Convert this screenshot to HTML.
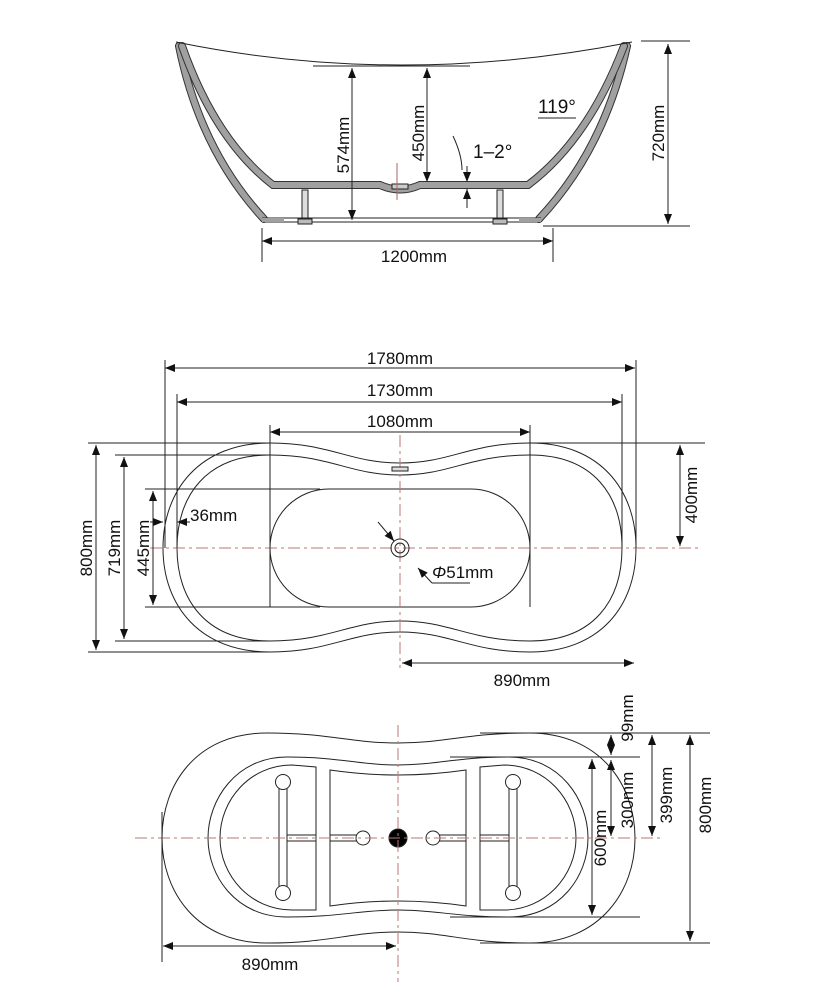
<!DOCTYPE html>
<html><head><meta charset="utf-8"><style>
body{margin:0;background:#fff}
svg{display:block}
text{font-family:"Liberation Sans",Arial,sans-serif;font-size:17px;fill:#111}
</style></head><body>
<svg width="815" height="1000" viewBox="0 0 815 1000" xmlns="http://www.w3.org/2000/svg">
<defs>
<marker id="a" markerWidth="10" markerHeight="8" refX="10" refY="4" orient="auto" markerUnits="userSpaceOnUse"><path d="M0,0 L10,4 L0,8 Z" fill="#111"/></marker>
<marker id="b" markerWidth="10" markerHeight="8" refX="0" refY="4" orient="auto" markerUnits="userSpaceOnUse"><path d="M10,0 L0,4 L10,8 Z" fill="#111"/></marker>
</defs>
<g stroke="#222" stroke-width="1" fill="none">
<!-- SIDE VIEW -->
<g stroke-linecap="round">
<path d="M179,46 Q200,150 264,219" stroke="#333" stroke-width="8"/>
<path d="M179,46 Q200,150 264,219" stroke="#a0a0a0" stroke-width="6"/>
<path d="M627,46 Q604,150 539,219" stroke="#333" stroke-width="8"/>
<path d="M627,46 Q604,150 539,219" stroke="#a0a0a0" stroke-width="6"/>
<path d="M182,46 Q215,140 273,185 L380,185 Q400,194 420,185 L528,185 Q588,140 624,46" stroke="#333" stroke-width="8"/>
<path d="M182,46 Q215,140 273,185 L380,185 Q400,194 420,185 L528,185 Q588,140 624,46" stroke="#a0a0a0" stroke-width="6"/>
</g>
<path d="M176,42 Q400,88 632,42"/>
<line x1="262" y1="218" x2="541" y2="218"/><line x1="262" y1="222" x2="541" y2="222"/>
<rect x="262" y="218" width="22" height="4" fill="#a0a0a0" stroke="none"/>
<rect x="519" y="218" width="22" height="4" fill="#a0a0a0" stroke="none"/>
<line x1="313" y1="66" x2="470" y2="66"/>
<rect x="302" y="190" width="6" height="28" fill="#ddd"/><rect x="298" y="219" width="14" height="5" fill="#bbb"/>
<rect x="497" y="190" width="6" height="28" fill="#ddd"/><rect x="493" y="219" width="14" height="5" fill="#bbb"/>
<rect x="392" y="184" width="16" height="5" fill="#ccc"/>
<line x1="397" y1="163" x2="397" y2="200" stroke="#a66"/>
<line x1="352" y1="68" x2="352" y2="220" marker-start="url(#b)" marker-end="url(#a)"/>
<line x1="427" y1="68" x2="427" y2="182" marker-start="url(#b)" marker-end="url(#a)"/>
<line x1="467" y1="166" x2="467" y2="182" marker-end="url(#a)"/>
<line x1="467" y1="208" x2="467" y2="189" marker-end="url(#a)"/>
<path d="M453,136 Q462,155 462,170"/>
<line x1="538" y1="118" x2="576" y2="118"/>
<line x1="668" y1="44" x2="668" y2="224" marker-start="url(#b)" marker-end="url(#a)"/>
<line x1="641" y1="41" x2="690" y2="41"/><line x1="543" y1="226" x2="690" y2="226"/>
<line x1="262" y1="241" x2="553" y2="241" marker-start="url(#b)" marker-end="url(#a)"/>
<line x1="262" y1="228" x2="262" y2="262"/><line x1="553" y1="228" x2="553" y2="262"/>

<!-- TOP VIEW -->
<path d="M270,443 C330,443 350,463 400,463 C450,463 470,443 530,443 C600,443 636,490 636,548 C636,606 600,652 530,652 C470,652 450,632 400,632 C350,632 330,652 270,652 C200,652 163,606 163,548 C163,490 200,443 270,443 Z"/>
<path d="M270,455 C330,455 350,475 400,475 C450,475 470,455 530,455 C594,455 622,496 622,548 C622,600 594,641 530,641 C470,641 450,621 400,621 C350,621 330,641 270,641 C206,641 177,600 177,548 C177,496 206,455 270,455 Z"/>
<rect x="270" y="489" width="260" height="118" rx="59"/>
<g stroke="#b77" stroke-dasharray="12,4,3,4"><line x1="150" y1="548" x2="700" y2="548"/><line x1="400" y1="435" x2="400" y2="668"/></g>
<circle cx="400" cy="548" r="9"/><circle cx="400" cy="548" r="5"/>
<rect x="392" y="467" width="16" height="4" fill="#ddd"/>
<line x1="165" y1="368" x2="635" y2="368" marker-start="url(#b)" marker-end="url(#a)"/>
<line x1="165" y1="360" x2="165" y2="548"/><line x1="636" y1="360" x2="636" y2="548"/>
<line x1="177" y1="402" x2="622" y2="402" marker-start="url(#b)" marker-end="url(#a)"/>
<line x1="177" y1="394" x2="177" y2="548"/><line x1="622" y1="394" x2="622" y2="548"/>
<line x1="270" y1="432" x2="530" y2="432" marker-start="url(#b)" marker-end="url(#a)"/>
<line x1="270" y1="425" x2="270" y2="607"/><line x1="530" y1="425" x2="530" y2="607"/>
<line x1="96" y1="445" x2="96" y2="650" marker-start="url(#b)" marker-end="url(#a)"/>
<line x1="88" y1="443" x2="270" y2="443"/><line x1="88" y1="652" x2="270" y2="652"/>
<line x1="124" y1="457" x2="124" y2="639" marker-start="url(#b)" marker-end="url(#a)"/>
<line x1="115" y1="455" x2="270" y2="455"/><line x1="115" y1="641" x2="270" y2="641"/>
<line x1="153" y1="491" x2="153" y2="605" marker-start="url(#b)" marker-end="url(#a)"/>
<line x1="145" y1="489" x2="320" y2="489"/><line x1="145" y1="607" x2="320" y2="607"/>
<line x1="150" y1="522" x2="163" y2="522" marker-end="url(#a)"/>
<line x1="190" y1="522" x2="177" y2="522" marker-end="url(#a)"/>
<line x1="680" y1="445" x2="680" y2="546" marker-start="url(#b)" marker-end="url(#a)"/>
<line x1="530" y1="443" x2="705" y2="443"/>
<line x1="378" y1="522" x2="394" y2="541" marker-end="url(#a)"/>
<path d="M432,583 L418,568" marker-end="url(#a)"/><line x1="432" y1="583" x2="470" y2="583"/>
<line x1="402" y1="663" x2="634" y2="663" marker-start="url(#b)" marker-end="url(#a)"/>

<!-- BOTTOM VIEW -->
<path d="M267,733 C330,733 350,743 398,743 C446,743 466,733 529,733 C600,733 635,785 635,838 C635,891 600,943 529,943 C466,943 446,932 398,932 C350,932 330,943 267,943 C196,943 162,891 162,838 C162,785 196,733 267,733 Z"/>
<path d="M287,757 C340,757 360,765 398,765 C436,765 456,757 509,757 C560,757 588,800 588,838 C588,876 560,917 509,917 C456,917 436,910 398,910 C360,910 340,917 287,917 C236,917 208,876 208,838 C208,800 236,757 287,757 Z"/>
<path d="M316,767 L316,910 L292,910 C250,910 220,875 220,838 C220,800 250,765 292,765 Z"/>
<path d="M330,770 Q398,780 466,770 L466,906 Q398,896 330,906 Z"/>
<path d="M480,767 L480,910 L504,910 C546,910 576,875 576,838 C576,800 546,765 504,765 Z"/>
<rect x="279" y="784" width="8" height="108"/><rect x="287" y="835" width="29" height="6"/>
<circle cx="283" cy="782" r="7.5" fill="#fff"/><circle cx="283" cy="893" r="7.5" fill="#fff"/>
<rect x="509" y="784" width="8" height="108"/><rect x="480" y="835" width="29" height="6"/>
<circle cx="513" cy="782" r="7.5" fill="#fff"/><circle cx="513" cy="893" r="7.5" fill="#fff"/>
<rect x="330" y="835" width="28" height="6"/><rect x="438" y="835" width="28" height="6"/>
<circle cx="363" cy="838" r="7" fill="#fff"/><circle cx="433" cy="838" r="7" fill="#fff"/>
<circle cx="398" cy="838" r="9" fill="#000"/>
<g stroke="#b77" stroke-dasharray="12,4,3,4"><line x1="135" y1="838" x2="660" y2="838"/><line x1="398" y1="725" x2="398" y2="982"/></g>
<line x1="480" y1="733" x2="710" y2="733"/><line x1="480" y1="943" x2="710" y2="943"/>
<line x1="450" y1="757" x2="640" y2="757"/><line x1="450" y1="917" x2="640" y2="917"/>
<line x1="611" y1="735" x2="611" y2="755" marker-start="url(#b)" marker-end="url(#a)"/>
<line x1="611" y1="760" x2="611" y2="836" marker-start="url(#b)" marker-end="url(#a)"/>
<line x1="592" y1="759" x2="592" y2="915" marker-start="url(#b)" marker-end="url(#a)"/>
<line x1="652" y1="735" x2="652" y2="836" marker-start="url(#b)" marker-end="url(#a)"/>
<line x1="690" y1="735" x2="690" y2="941" marker-start="url(#b)" marker-end="url(#a)"/>
<line x1="163" y1="946" x2="396" y2="946" marker-start="url(#b)" marker-end="url(#a)"/>
<line x1="162" y1="812" x2="162" y2="962"/>
</g>
<!-- TEXT -->
<g>
<text transform="translate(349,145) rotate(-90)" text-anchor="middle">574mm</text>
<text transform="translate(424,133) rotate(-90)" text-anchor="middle">450mm</text>
<text transform="translate(664,133) rotate(-90)" text-anchor="middle">720mm</text>
<text x="538" y="113" style="font-size:19px">119°</text>
<text x="473" y="158" style="font-size:19px">1–2°</text>
<text x="414" y="262" text-anchor="middle">1200mm</text>
<text x="400" y="364" text-anchor="middle">1780mm</text>
<text x="400" y="396" text-anchor="middle">1730mm</text>
<text x="400" y="427" text-anchor="middle">1080mm</text>
<text x="190" y="521">36mm</text>
<text x="432" y="578"><tspan font-style="italic">Φ</tspan>51mm</text>
<text x="522" y="686" text-anchor="middle">890mm</text>
<text transform="translate(92,548) rotate(-90)" text-anchor="middle">800mm</text>
<text transform="translate(120,548) rotate(-90)" text-anchor="middle">719mm</text>
<text transform="translate(149,548) rotate(-90)" text-anchor="middle">445mm</text>
<text transform="translate(697,495) rotate(-90)" text-anchor="middle">400mm</text>
<text transform="translate(633,718) rotate(-90)" text-anchor="middle">99mm</text>
<text transform="translate(633,800) rotate(-90)" text-anchor="middle">300mm</text>
<text transform="translate(606,838) rotate(-90)" text-anchor="middle">600mm</text>
<text transform="translate(672,795) rotate(-90)" text-anchor="middle">399mm</text>
<text transform="translate(711,805) rotate(-90)" text-anchor="middle">800mm</text>
<text x="270" y="970" text-anchor="middle">890mm</text>
</g>
</svg>
</body></html>
